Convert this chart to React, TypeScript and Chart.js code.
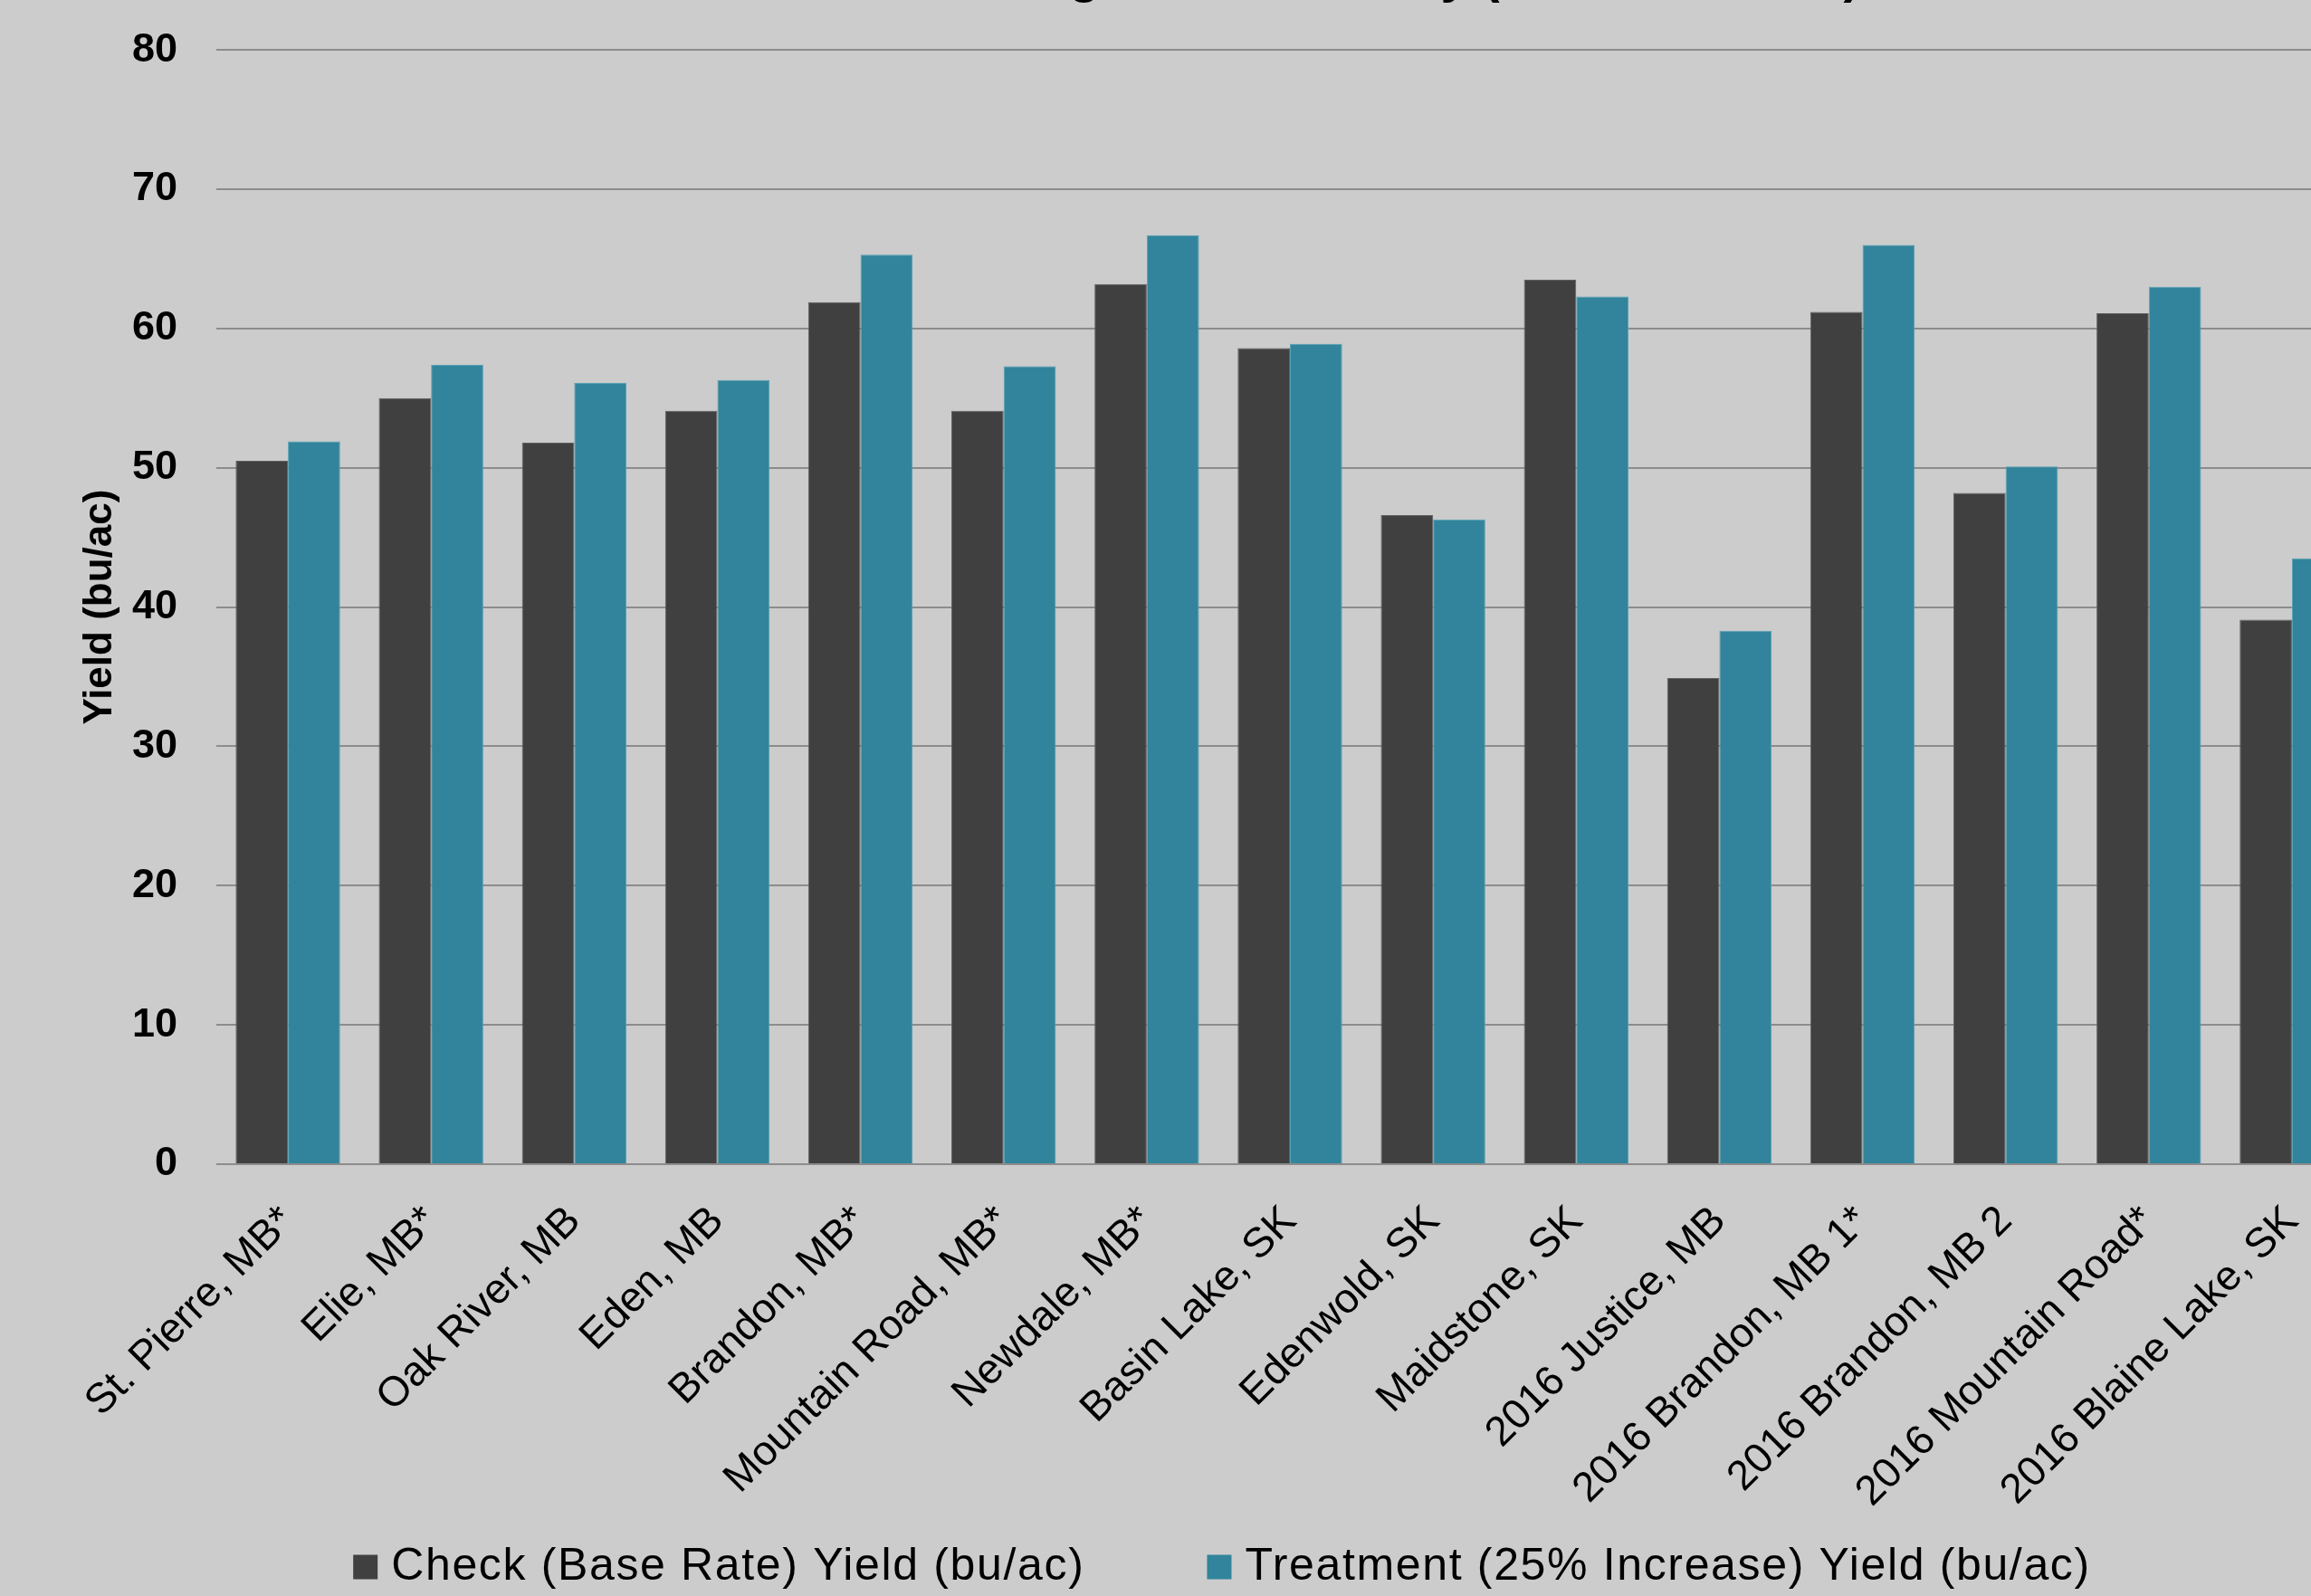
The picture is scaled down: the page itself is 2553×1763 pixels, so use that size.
import React, { useEffect, useRef } from "react";
import { Chart, registerables } from "chart.js";

Chart.register(...registerables);

// ---- data ----
const sites = [
  "St. Pierre, MB*",
  "Elie, MB*",
  "Oak River, MB",
  "Eden, MB",
  "Brandon, MB*",
  "Mountain Road, MB*",
  "Newdale, MB*",
  "Basin Lake, SK",
  "Edenwold, SK",
  "Maidstone, SK",
  "2016 Justice, MB",
  "2016 Brandon, MB 1*",
  "2016 Brandon, MB 2",
  "2016 Mountain Road*",
  "2016 Blaine Lake, SK",
];

const checkYield = [50.5, 55.0, 51.8, 54.1, 61.9, 54.1, 63.2, 58.6, 46.6, 63.5, 34.9, 61.2, 48.2, 61.1, 39.1];
const treatmentYield = [51.9, 57.4, 56.1, 56.3, 65.3, 57.3, 66.7, 58.9, 46.3, 62.3, 38.3, 66.0, 50.1, 63.0, 43.5];

const seriesNames = ["Check (Base Rate) Yield (bu/ac)", "Treatment (25% Increase) Yield (bu/ac)"];
const chartTitle = "Canola Seeding Rate Summary (2015 and 2016)";
const yAxisTitle = "Yield (bu/ac)";
const yMin = 0;
const yMax = 80;
const yStep = 10;

// ---- styling ----
const FONT = '"Liberation Sans", Arial, Helvetica, sans-serif';
const BG = "#cccccc";
const DARK = "#404040";
const TEAL = "#31849b";
const GRID = "#8c8c8c";

const CANVAS_W = 2700;
const CANVAS_H = 1880;
const CANVAS_TOP = -70;

const LEGEND_FONT = 50;
const LEGEND_BOX = 27;
const LEGEND_BOX_GAP = 15;
const LEGEND_ITEM_GAP = 135;
const LEGEND_FROM_BOTTOM = 79;

// Legend drawn below the axis labels, centred on the canvas.
const bottomLegend = {
  id: "bottomLegend",
  afterDraw(chart: any) {
    const { ctx } = chart;
    ctx.save();
    ctx.font = `${LEGEND_FONT}px ${FONT}`;
    (ctx as any).letterSpacing = "1.65px";
    ctx.textAlign = "left";
    ctx.textBaseline = "middle";
    const items = chart.data.datasets.map((ds: any) => ({
      label: ds.label as string,
      color: ds.backgroundColor as string,
      w: ctx.measureText(ds.label).width,
    }));
    const total =
      items.reduce((s: number, it: any) => s + LEGEND_BOX + LEGEND_BOX_GAP + it.w, 0) +
      LEGEND_ITEM_GAP * (items.length - 1);
    let x = chart.width / 2 - total / 2;
    const y = chart.height - LEGEND_FROM_BOTTOM;
    for (const it of items) {
      ctx.fillStyle = it.color;
      ctx.fillRect(x, y - LEGEND_BOX / 2, LEGEND_BOX, LEGEND_BOX);
      x += LEGEND_BOX + LEGEND_BOX_GAP;
      ctx.fillStyle = "#000000";
      ctx.fillText(it.label, x, y);
      x += it.w + LEGEND_ITEM_GAP;
    }
    ctx.restore();
  },
};

export default function App() {
  const canvasRef = useRef<HTMLCanvasElement>(null);

  useEffect(() => {
    if (!canvasRef.current) return;
    Chart.defaults.font.family = FONT;
    const chart = new Chart(canvasRef.current, {
      type: "bar",
      data: {
        labels: sites,
        datasets: [
          {
            label: seriesNames[0],
            data: checkYield,
            backgroundColor: DARK,
            borderColor: "#606060",
            borderWidth: 1,
            categoryPercentage: 0.73,
            barPercentage: 1,
          },
          {
            label: seriesNames[1],
            data: treatmentYield,
            backgroundColor: TEAL,
            borderColor: "#5aa2b6",
            borderWidth: 1,
            categoryPercentage: 0.73,
            barPercentage: 1,
          },
        ],
      },
      options: {
        responsive: false,
        animation: false,
        layout: { padding: { left: 0, right: 89, top: 0, bottom: 144 } },
        plugins: {
          legend: { display: false },
          tooltip: { enabled: false },
          title: {
            display: true,
            text: chartTitle,
            fullSize: false,
            color: "#000000",
            font: { size: 56, weight: "bold" },
            padding: { top: 12, bottom: 46 },
          },
        },
        scales: {
          x: {
            grid: { display: false, drawTicks: false },
            border: { display: false },
            ticks: {
              color: "#000000",
              font: { size: 46 },
              maxRotation: 45,
              minRotation: 45,
              autoSkip: false,
              padding: 36,
            },
            afterFit: (scale: any) => {
              scale.height = 380;
            },
          },
          y: {
            min: yMin,
            max: yMax,
            grid: { color: GRID, lineWidth: 2, drawTicks: false },
            border: { display: false },
            ticks: {
              stepSize: yStep,
              color: "#000000",
              font: { size: 45, weight: "bold" },
              padding: 43,
            },
            title: {
              display: true,
              text: yAxisTitle,
              color: "#000000",
              font: { size: 44, weight: "bold" },
              padding: { top: 84, bottom: 0 },
            },
            afterFit: (scale: any) => {
              scale.width = 239;
            },
          },
        },
      },
      plugins: [bottomLegend],
    } as any);
    return () => chart.destroy();
  }, []);

  return (
    <div
      style={{
        position: "fixed",
        left: 0,
        top: 0,
        width: 2553,
        height: 1763,
        overflow: "hidden",
        background: BG,
      }}
    >
      <canvas
        ref={canvasRef}
        width={CANVAS_W}
        height={CANVAS_H}
        style={{ position: "absolute", left: 0, top: CANVAS_TOP, width: CANVAS_W, height: CANVAS_H }}
      />
    </div>
  );
}
